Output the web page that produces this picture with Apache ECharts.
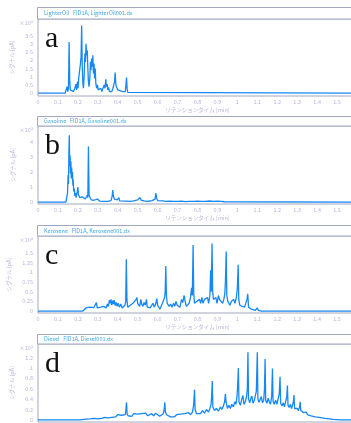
<!DOCTYPE html>
<html>
<head>
<meta charset="utf-8">
<title>chromatograms</title>
<script src="https://cdn.jsdelivr.net/npm/echarts@6/dist/echarts.min.js"></script>
<style>
  html, body { margin: 0; padding: 0; background: #fff; }
  #chart { width: 351px; height: 423px; }
</style>
</head>
<body>
<div id="chart"></div>
<script>
// panel titles / letters
var panelTitles = [
  "LighterOil   FID1A, LighterOil001.dx",
  "Gasoline   FID1A, Gasoline001.dx",
  "Kerosene   FID1A, Kerosene001.dx",
  "Diesel   FID1A, Diesel001.dx"
];
var panelLetters = ["a", "b", "c", "d"];
var xName = "リテンションタイム [min]";
var yName = "シグナル [pA]";

// y tick labels for each panel (x10^3)
var yTicksA = [0, 0.5, 1, 1.5, 2, 2.5, 3, 3.5];
var yTicksB = [0, 1, 2, 3, 4];
var yTicksC = [0, 0.25, 0.5, 0.75, 1, 1.25, 1.5];
var yTicksD = [0, 0.2, 0.4, 0.6, 0.8, 1, 1.2];

// traces: [retention time (min), signal (x10^3 pA)]
var lighterOil = [
  [0,0],[0.136,0],[0.142,0.05],[0.146,0.4],[0.149,0.1],[0.153,0.3],[0.156,3.1],[0.159,0.8],[0.162,0.2],
  [0.166,0.1],[0.172,0.15],[0.178,0.1],[0.185,0.3],[0.19,0.55],[0.194,0.2],[0.198,0.7],[0.201,0.3],
  [0.204,0.9],[0.207,1.2],[0.21,1.5],[0.213,1.8],[0.216,2.2],[0.219,4.1],[0.222,1.6],[0.225,0.6],
  [0.228,0.3],[0.232,1.2],[0.235,2.4],[0.238,1.9],[0.241,3.0],[0.244,2.3],[0.247,2.6],[0.25,1.5],
  [0.253,0.7],[0.256,0.4],[0.26,0.9],[0.263,1.9],[0.266,1.4],[0.269,2.1],[0.272,1.6],[0.275,2.3],
  [0.278,1.2],[0.281,1.8],[0.284,0.9],[0.287,1.5],[0.29,0.6],[0.294,0.3],[0.298,0.5],[0.302,0.2],
  [0.308,0.15],[0.315,0.3],[0.32,0.1],[0.326,0.2],[0.332,0.5],[0.336,0.3],[0.34,0.85],[0.343,0.4],
  [0.347,0.55],[0.35,0.2],[0.354,0.35],[0.358,0.1],[0.364,0.15],[0.37,0.1],[0.376,0.3],[0.38,0.5],
  [0.384,0.7],[0.387,1.25],[0.39,0.6],[0.393,0.4],[0.397,0.5],[0.4,0.2],[0.405,0.1],[0.412,0.15],
  [0.418,0.05],[0.425,0.1],[0.432,0.05],[0.438,0.1],[0.441,0.5],[0.444,0.95],[0.447,0.3],[0.45,0.05],
  [0.456,0],[1.6,0]
];
var gasoline = [
  [0,0],[0.14,0],[0.145,0.1],[0.148,0.6],[0.151,1.8],[0.153,1.2],[0.155,3.3],[0.157,4.45],[0.159,2.4],
  [0.161,3.1],[0.163,1.9],[0.165,2.7],[0.167,1.6],[0.169,2.3],[0.171,1.5],[0.173,2.0],[0.175,1.1],
  [0.177,1.5],[0.179,0.7],[0.182,0.9],[0.185,0.4],[0.188,0.6],[0.191,0.3],[0.194,0.5],[0.197,0.7],
  [0.2,1.0],[0.203,0.5],[0.206,0.6],[0.209,0.3],[0.213,0.4],[0.217,0.2],[0.222,0.35],[0.227,0.25],
  [0.232,0.3],[0.237,0.2],[0.242,0.3],[0.247,0.45],[0.25,0.3],[0.253,3.7],[0.256,0.5],[0.259,0.35],
  [0.263,0.4],[0.267,0.15],[0.272,0.1],[0.28,0.12],[0.29,0.08],[0.298,0.2],[0.303,0.1],[0.31,0.06],
  [0.32,0.08],[0.33,0.05],[0.34,0.07],[0.35,0.05],[0.36,0.15],[0.366,0.1],[0.372,0.4],[0.375,0.8],
  [0.378,0.4],[0.383,0.2],[0.39,0.1],[0.398,0.15],[0.405,0.3],[0.41,0.08],[0.42,0.05],[0.44,0.06],
  [0.46,0.04],[0.48,0.08],[0.49,0.05],[0.5,0.15],[0.506,0.1],[0.512,0.3],[0.518,0.12],[0.525,0.2],
  [0.532,0.08],[0.545,0.05],[0.56,0.07],[0.572,0.1],[0.58,0.15],[0.587,0.2],[0.591,0.6],[0.595,0.25],
  [0.6,0.1],[0.61,0.05],[0.625,0.08],[0.64,0.05],[0.66,0.06],[0.68,0.05],[0.7,0.04],[0.72,0.06],
  [0.74,0.03],[0.76,0.05],[0.78,0.04],[0.8,0.06],[0.82,0.04],[0.84,0.05],[0.86,0.07],[0.88,0.05],
  [0.9,0.06],[0.92,0.05],[0.935,0.02],[0.94,0],[1.6,0]
];
var kerosene = [
  [0,0],[0.225,0],[0.23,0.05],[0.24,0.08],[0.25,0.05],[0.26,0.1],[0.27,0.06],[0.28,0.09],[0.288,0.07],
  [0.293,0.22],[0.297,0.08],[0.305,0.05],[0.315,0.1],[0.322,0.06],[0.33,0.12],[0.337,0.15],[0.342,0.08],
  [0.348,0.18],[0.353,0.12],[0.358,0.28],[0.362,0.2],[0.366,0.3],[0.37,0.15],[0.374,0.27],[0.378,0.18],
  [0.382,0.28],[0.387,0.14],[0.392,0.22],[0.397,0.12],[0.402,0.2],[0.408,0.1],[0.415,0.18],[0.422,0.08],
  [0.43,0.1],[0.436,0.15],[0.44,0.25],[0.443,1.33],[0.446,0.3],[0.45,0.1],[0.456,0.05],[0.463,0.15],
  [0.47,0.1],[0.476,0.2],[0.482,0.15],[0.49,0.28],[0.496,0.35],[0.5,0.2],[0.505,0.25],[0.51,0.12],
  [0.516,0.3],[0.52,0.18],[0.526,0.12],[0.532,0.22],[0.538,0.15],[0.544,0.3],[0.548,0.1],[0.555,0.15],
  [0.562,0.08],[0.57,0.12],[0.577,0.2],[0.583,0.1],[0.59,0.18],[0.596,0.32],[0.6,0.15],[0.606,0.12],
  [0.612,0.05],[0.618,0.1],[0.624,0.2],[0.63,0.25],[0.635,0.35],[0.638,0.5],[0.641,1.16],[0.644,0.4],
  [0.648,0.2],[0.652,0.25],[0.658,0.12],[0.665,0.18],[0.672,0.1],[0.68,0.2],[0.686,0.12],[0.692,0.25],
  [0.698,0.15],[0.705,0.2],[0.712,0.1],[0.72,0.3],[0.726,0.22],[0.733,0.4],[0.738,0.25],[0.744,0.12],
  [0.75,0.15],[0.758,0.2],[0.765,0.35],[0.77,0.6],[0.774,0.4],[0.778,1.7],[0.781,0.45],[0.785,0.2],
  [0.79,0.15],[0.797,0.25],[0.803,0.2],[0.81,0.3],[0.816,0.2],[0.822,0.35],[0.828,0.2],[0.835,0.3],
  [0.842,0.25],[0.85,0.35],[0.856,0.2],[0.862,0.4],[0.866,1.05],[0.869,0.5],[0.873,1.74],[0.876,0.5],
  [0.88,0.3],[0.886,0.25],[0.892,0.35],[0.898,0.2],[0.905,0.4],[0.91,0.3],[0.915,0.25],[0.92,0.35],
  [0.926,0.2],[0.932,0.3],[0.937,0.45],[0.94,0.75],[0.944,1.53],[0.947,0.4],[0.952,0.25],[0.958,0.3],
  [0.963,0.15],[0.97,0.25],[0.976,0.2],[0.982,0.3],[0.988,0.2],[0.995,0.35],[1.0,0.6],[1.004,1.19],
  [1.007,0.3],[1.012,0.15],[1.018,0.2],[1.024,0.12],[1.03,0.15],[1.036,0.1],[1.042,0.15],[1.048,0.3],
  [1.052,0.44],[1.056,0.1],[1.062,0.06],[1.07,0.05],[1.08,0.02],[1.09,0.02],[1.095,0.04],[1.1,0.08],
  [1.105,0.02],[1.12,0],[1.6,0]
];
var diesel = [
  [0,0],[0.21,0],[0.23,0.01],[0.26,0.02],[0.28,0.03],[0.3,0.02],[0.31,0.05],[0.32,0.03],[0.335,0.05],
  [0.35,0.04],[0.36,0.07],[0.37,0.05],[0.38,0.08],[0.39,0.06],[0.4,0.1],[0.41,0.07],[0.42,0.09],
  [0.43,0.06],[0.438,0.1],[0.441,0.2],[0.444,0.34],[0.447,0.12],[0.452,0.08],[0.46,0.1],[0.47,0.07],
  [0.48,0.12],[0.49,0.09],[0.5,0.11],[0.51,0.08],[0.52,0.12],[0.53,0.09],[0.54,0.13],[0.55,0.08],
  [0.56,0.1],[0.57,0.12],[0.58,0.08],[0.59,0.13],[0.6,0.1],[0.61,0.07],[0.62,0.1],[0.628,0.12],
  [0.633,0.2],[0.636,0.34],[0.639,0.15],[0.645,0.1],[0.655,0.07],[0.665,0.06],[0.675,0.09],[0.685,0.06],
  [0.695,0.1],[0.705,0.07],[0.715,0.11],[0.725,0.08],[0.735,0.12],[0.745,0.09],[0.755,0.14],[0.765,0.1],
  [0.775,0.15],[0.781,0.3],[0.785,0.58],[0.788,0.2],[0.795,0.12],[0.805,0.15],[0.815,0.12],[0.825,0.18],
  [0.835,0.13],[0.845,0.2],[0.855,0.15],[0.862,0.22],[0.868,0.3],[0.871,0.45],[0.874,0.75],[0.877,0.25],
  [0.885,0.18],[0.895,0.22],[0.905,0.17],[0.915,0.25],[0.922,0.2],[0.93,0.27],[0.936,0.35],[0.94,0.5],
  [0.943,0.35],[0.95,0.22],[0.958,0.28],[0.965,0.22],[0.972,0.3],[0.98,0.25],[0.987,0.35],[0.993,0.3],
  [0.998,0.45],[1.002,0.7],[1.005,1.0],[1.008,0.35],[1.015,0.28],[1.022,0.4],[1.028,0.47],[1.033,0.3],
  [1.04,0.35],[1.046,0.45],[1.05,0.6],[1.053,1.3],[1.056,0.4],[1.062,0.33],[1.068,0.42],[1.073,0.46],
  [1.078,0.32],[1.085,0.38],[1.09,0.35],[1.095,0.55],[1.1,1.3],[1.103,0.4],[1.108,0.34],[1.115,0.4],
  [1.12,0.45],[1.126,0.33],[1.132,0.38],[1.136,0.6],[1.139,1.17],[1.142,0.38],[1.148,0.32],[1.155,0.42],
  [1.16,0.35],[1.166,0.3],[1.172,0.45],[1.176,0.99],[1.179,0.36],[1.185,0.3],[1.192,0.38],[1.198,0.3],
  [1.205,0.28],[1.21,0.5],[1.214,0.83],[1.217,0.32],[1.224,0.27],[1.23,0.33],[1.236,0.25],[1.242,0.28],
  [1.248,0.45],[1.251,0.66],[1.254,0.28],[1.26,0.24],[1.266,0.3],[1.272,0.22],[1.278,0.25],[1.281,0.35],
  [1.284,0.48],[1.287,0.22],[1.294,0.2],[1.3,0.22],[1.306,0.18],[1.312,0.25],[1.315,0.35],[1.318,0.18],
  [1.325,0.15],[1.332,0.14],[1.34,0.12],[1.345,0.15],[1.348,0.18],[1.352,0.1],[1.36,0.1],[1.37,0.08],
  [1.38,0.07],[1.39,0.06],[1.4,0.05],[1.41,0.05],[1.42,0.04],[1.44,0.03],[1.46,0.02],[1.48,0.01],
  [1.5,0.005],[1.52,0],[1.6,0]
];

var traces = [lighterOil, gasoline, kerosene, diesel];
var yTicks = [yTicksA, yTicksB, yTicksC, yTicksD];

// layout per panel: strip top, grid top, grid height, y range
var panels = [
  { strip: 7.5, top: 19, height: 77, min: -0.17, max: 4.5 },
  { strip: 116.5, top: 126, height: 78, min: -0.13, max: 5.07 },
  { strip: 225.5, top: 236, height: 77, min: -0.05, max: 1.93 },
  { strip: 334.5, top: 344, height: 78, min: -0.04, max: 1.46 }
];

var lineColor = "#1688f5";
var frameColor = "#a2a7bf";
var labelColor = "#bdb2dc";
var font = "Noto Sans CJK JP";

var grids = [], xAxes = [], yAxes = [], series = [], graphics = [];

panels.forEach(function(p, i) {
  grids.push({
    left: 38, right: -6, top: p.top, height: p.height,
    outerBoundsMode: "none", containLabel: false,
    show: true, borderColor: frameColor, borderWidth: 1, backgroundColor: "#fff"
  });
  xAxes.push({
    type: "value", gridIndex: i, min: 0, max: 1.6, interval: 0.1,
    axisLine: { show: false }, axisTick: { show: false }, splitLine: { show: false },
    axisLabel: {
      color: labelColor, fontSize: 5.5, fontFamily: font, margin: 3,
      formatter: function(v) { return String(Math.round(v * 10) / 10); }
    },
    name: xName, nameLocation: "middle", nameGap: 11,
    nameTextStyle: { color: labelColor, fontSize: 5.5, fontFamily: font }
  });
  yAxes.push({
    type: "value", gridIndex: i, min: p.min, max: p.max,
    axisLine: { show: false }, axisTick: { show: false }, splitLine: { show: false },
    axisLabel: {
      customValues: yTicks[i], color: labelColor, fontSize: 5.5, fontFamily: font, margin: 5,
      formatter: function(v) { return String(v); }
    },
    name: yName, nameLocation: "middle", nameGap: 22, nameRotate: 90,
    nameTextStyle: { color: labelColor, fontSize: 5.5, fontFamily: font }
  });
  series.push({
    type: "line", xAxisIndex: i, yAxisIndex: i, data: traces[i],
    showSymbol: false, symbol: "none", animation: false,
    lineStyle: { color: lineColor, width: 1.3 }
  });
  // title strip above each plot
  graphics.push({
    type: "rect", shape: { x: 37.5, y: p.strip, width: 330, height: p.top - p.strip },
    style: { fill: "#fff", stroke: frameColor, lineWidth: 1 }
  });
  graphics.push({
    type: "text", x: 44, y: p.strip + (p.top - p.strip) / 2,
    style: { text: panelTitles[i], fill: "#3ea8e4", fontSize: 5.5, fontFamily: font, verticalAlign: "middle" }
  });
  graphics.push({
    type: "text", x: 33, y: p.top + 4,
    style: { text: "×10³", fill: labelColor, fontSize: 5.5, fontFamily: font, align: "right", verticalAlign: "middle" }
  });
  graphics.push({
    type: "text", x: 45, y: p.top + 5,
    style: { text: panelLetters[i], fill: "#111", fontSize: 30, fontFamily: "Liberation Serif", verticalAlign: "top" }
  });
});

var myChart = echarts.init(document.getElementById("chart"));
myChart.setOption({
  animation: false,
  grid: grids,
  xAxis: xAxes,
  yAxis: yAxes,
  series: series,
  graphic: graphics
});
</script>
</body>
</html>
